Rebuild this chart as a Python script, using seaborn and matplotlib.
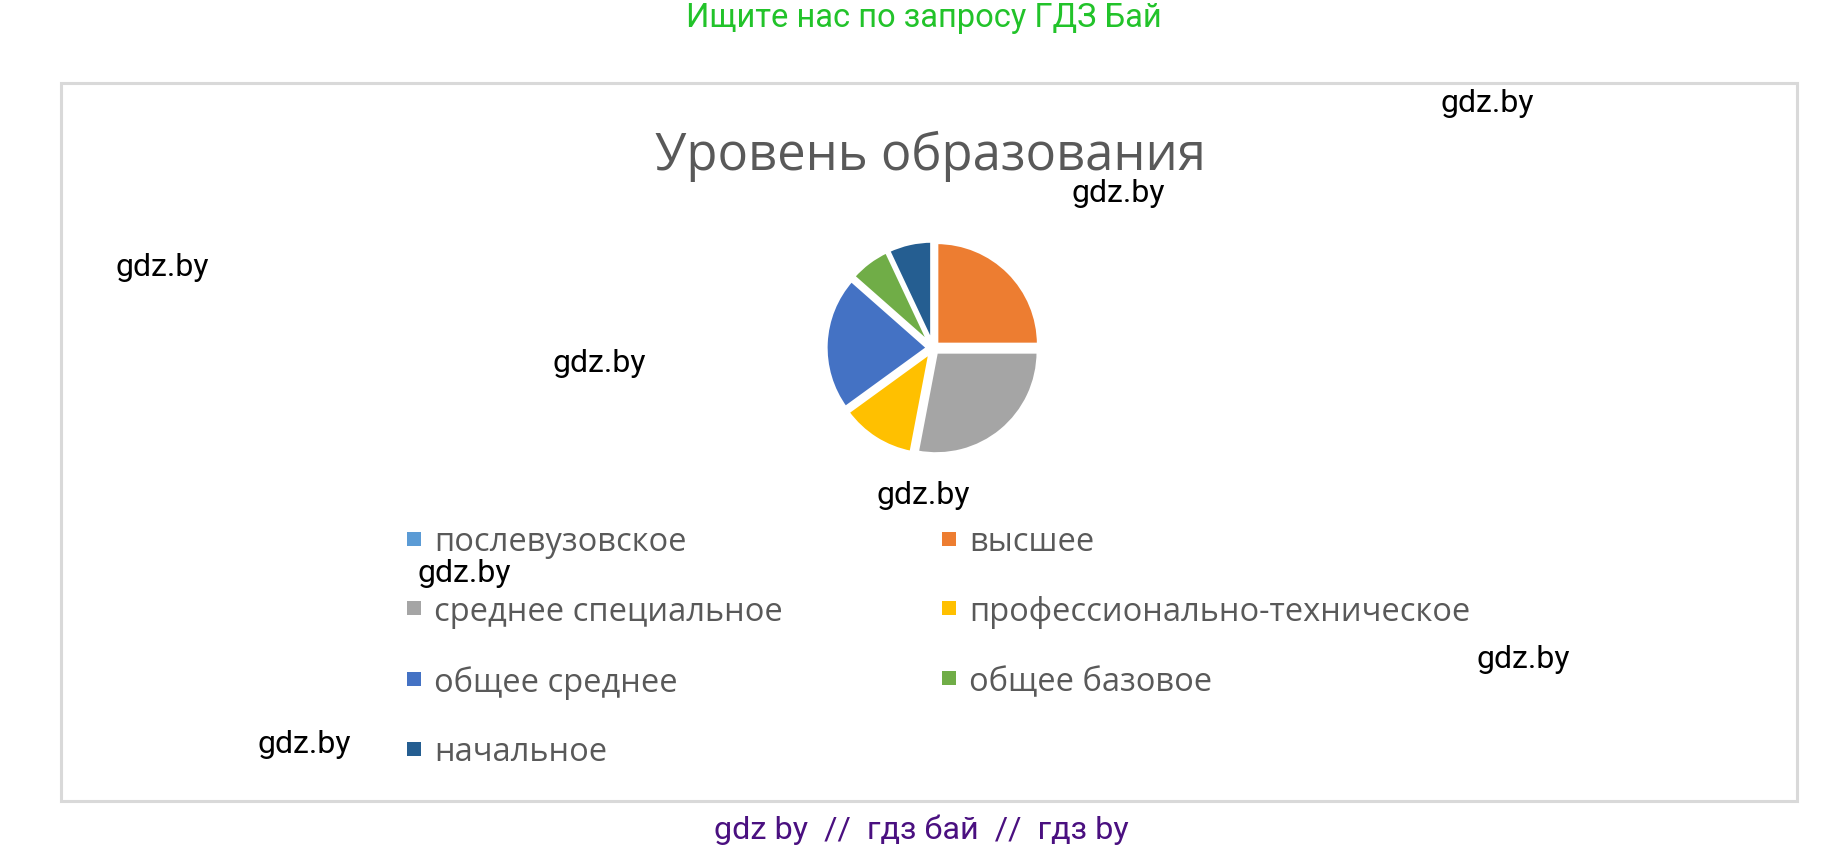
import seaborn as sns
from matplotlib import pyplot as plt
from matplotlib.lines import Line2D
from matplotlib.patches import Rectangle

levels = ["послевузовское", "высшее", "среднее специальное",
          "профессионально-техническое", "общее среднее", "общее базовое",
          "начальное"]
shares = [0, 25, 28, 12, 21.5, 6.5, 7]
colors = ["#5B9BD5", "#ED7D31", "#A5A5A5", "#FFC000", "#4472C4", "#70AD47", "#255E91"]

title = "Уровень образования"
top_note = "Ищите нас по запросу ГДЗ Бай"
bottom_note = "gdz by  //  гдз бай  //  гдз by"
marks = [(1487, 104), (1118, 194), (162, 267), (599, 364),
         (923, 496), (464, 573), (1523, 660), (304, 745)]

W, H = 1846, 853

sns.set_style("white")
plt.rcParams['font.family'] = ['Open Sans', 'DejaVu Sans']

fig = plt.figure(figsize=(W / 100, H / 100), dpi=100)
palette = sns.color_palette(colors)

# chart frame
fig.patches.append(Rectangle((61 / W, 1 - 802 / H), (1797 - 61) / W, (802 - 84) / H,
                             transform=fig.transFigure, fill=False,
                             edgecolor="#d9d9d9", linewidth=2.2))

# pie
cx, cy, unit = 933, 349, 102
span = 1.3
ax = fig.add_axes([(cx - span * unit) / W, 1 - (cy + span * unit) / H,
                   2 * span * unit / W, 2 * span * unit / H])
ax.pie(shares, colors=palette, startangle=90, counterclock=False,
       explode=[0.05] * len(shares),
       wedgeprops=dict(edgecolor="white", linewidth=2.5))
ax.set_xlim(-span, span)
ax.set_ylim(-span, span)
ax.set_aspect("equal")
ax.axis("off")

fig.text(930 / W, 1 - 156 / H, title, ha="center", va="center",
         fontsize=36.5, color="#595959")

# legend, row-major order like the original
order = [0, 2, 4, 6, 1, 3, 5]
handles = [Line2D([], [], linestyle="none", marker="s", markersize=9.5,
                  markerfacecolor=palette[i], markeredgewidth=0) for i in order]
labels = [levels[i] for i in order]
fig.legend(handles, labels, ncol=2, loc="upper left",
           bbox_to_anchor=(406 / W, 1 - 526 / H), frameon=False,
           fontsize=23.5, labelcolor="#595959", handlelength=0.46,
           handletextpad=0.4, labelspacing=1.13, columnspacing=4.85,
           borderpad=0, borderaxespad=0)

# watermarks
fig.text(924 / W, 1 - 18 / H, top_note, ha="center", va="center",
         fontsize=23.5, color="#22c32a", family=["Roboto", "DejaVu Sans"])
fig.text(921 / W, 1 - 830 / H, bottom_note, ha="center", va="center",
         fontsize=23.3, color="#4a1080", family=["Roboto", "DejaVu Sans"])
for x, y in marks:
    fig.text(x / W, 1 - y / H, "gdz.by", ha="center", va="center",
             fontsize=23, color="black", family=["Roboto", "DejaVu Sans"])

fig.savefig("out.png", dpi=100)
